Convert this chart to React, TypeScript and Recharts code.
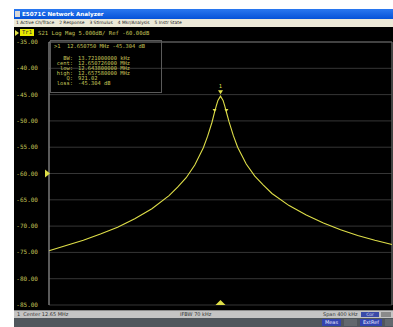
import { LineChart, Line, XAxis, YAxis, CartesianGrid, ReferenceDot, ReferenceLine } from 'recharts'

// S21 trace, offset from center 12.65 MHz (kHz) vs magnitude (dB)
const offsetKHz = [
  -200, -180, -160, -140, -120, -100, -80, -60, -50, -40, -30, -20, -15, -10, -7, -5, -3, 0,
  3, 5, 7, 10, 15, 20, 30, 40, 50, 60, 80, 100, 120, 140, 160, 180, 200,
]
const s21dB = [
  -74.7, -73.7, -72.7, -71.5, -70.2, -68.6, -66.7, -64.2, -62.6, -60.8, -58.4, -55.1, -52.9, -50.3, -48.4, -47.2, -46.1, -45.3,
  -46.1, -47.2, -48.4, -50.2, -52.8, -55.0, -58.2, -60.5, -62.2, -63.8, -66.1, -67.9, -69.4, -70.7, -71.8, -72.7, -73.5,
]
const yTicks = [-85, -80, -75, -70, -65, -60, -55, -50, -45, -40, -35]
const xTicks = [-200, -160, -120, -80, -40, 0, 40, 80, 120, 160, 200]
const menuItems = ['1 Active Ch/Trace', '2 Response', '3 Stimulus', '4 Mkr/Analysis', '5 Instr State']
const mkrLabels = ['BW:', 'cent:', 'low:', 'high:', 'Q:', 'loss:']
const mkrValues = ['13.721000000 kHz', '12.650726000 MHz', '12.643800000 MHz', '12.657580000 MHz', '921.02', '-45.304 dB']
const bwEdges = [-6.9, 6.9]

const YELLOW = '#dede48'
const TEXT_Y = '#c4c458'
const MONO = '"DejaVu Sans Mono", monospace'
const SANS = 'Tahoma, "DejaVu Sans", sans-serif'

const data = offsetKHz.map((o, i) => ({ off: o, db: s21dB[i] }))

const YTick = ({ x, y, payload }: any) => (
  <text x={x - 3} y={y + 2} textAnchor="end" fontSize={6} fontFamily={MONO} fill={TEXT_Y}>
    {payload.value.toFixed(2)}
  </text>
)

const RefArrow = ({ cx, cy }: any) => (
  <path d={`M${cx - 4},${cy - 4} L${cx + 1},${cy} L${cx - 4},${cy + 4} Z`} fill={YELLOW} />
)
const StimArrow = ({ cx, cy }: any) => (
  <path d={`M${cx - 5},${cy} L${cx},${cy - 5} L${cx + 5},${cy} Z`} fill={YELLOW} />
)
const PeakMarker = ({ cx, cy }: any) => (
  <g>
    <path d={`M${cx - 2.5},${cy - 6} L${cx + 2.5},${cy - 6} L${cx},${cy - 2} Z`} fill={YELLOW} />
    <text x={cx} y={cy - 8} textAnchor="middle" fontSize={5.5} fontFamily={MONO} fill={YELLOW}>1</text>
  </g>
)
const BwMarker = ({ cx, cy }: any) => (
  <path d={`M${cx - 2},${cy - 3} L${cx + 2},${cy - 3} L${cx},${cy} Z`} fill={YELLOW} />
)

export default function App() {
  return (
    <div style={{ position: 'absolute', left: 0, top: 0, width: 393, height: 327, background: '#fff', overflow: 'hidden' }}>
      {/* title bar */}
      <div style={{ position: 'absolute', left: 14, top: 9, width: 379, height: 10, background: 'linear-gradient(#2a78f0, #0552d8)' }}>
        <div style={{ position: 'absolute', left: 1, top: 2, width: 5, height: 6, background: '#d8d8d8' }} />
        <span style={{ position: 'absolute', left: 8, top: 1.5, fontSize: 5.6, fontWeight: 'bold', fontFamily: SANS, color: '#fff', whiteSpace: 'nowrap' }}>
          E5071C Network Analyzer
        </span>
      </div>
      {/* menu bar */}
      <div style={{ position: 'absolute', left: 14, top: 19, width: 379, height: 8, background: '#ece9d8', display: 'flex', gap: 5, paddingLeft: 2, fontSize: 4.4, fontFamily: SANS, color: '#222', lineHeight: '8px', whiteSpace: 'nowrap' }}>
        {menuItems.map(m => <span key={m}>{m}</span>)}
      </div>
      {/* screen */}
      <div style={{ position: 'absolute', left: 14, top: 27, width: 379, height: 283, background: '#000' }} />
      <div style={{ position: 'absolute', left: 15, top: 29, height: 7, display: 'flex', alignItems: 'center', fontFamily: MONO, fontSize: 5.6, whiteSpace: 'nowrap' }}>
        <span style={{ width: 0, height: 0, borderTop: '3px solid transparent', borderBottom: '3px solid transparent', borderLeft: `4px solid ${YELLOW}` }} />
        <span style={{ background: '#e8e800', color: '#333', padding: '0 2px', marginLeft: 1, lineHeight: '7px' }}>Tr1</span>
        <span style={{ color: TEXT_Y, marginLeft: 4 }}>S21 Log Mag 5.000dB/ Ref -60.00dB</span>
      </div>

      <div style={{ position: 'absolute', left: 0, top: 0 }}>
        <LineChart width={393} height={310} data={data} margin={{ top: 42, right: 1, bottom: 5, left: 14 }}>
          <CartesianGrid stroke="#363636" strokeWidth={1} />
          <XAxis
            dataKey="off"
            type="number"
            domain={[-200, 200]}
            ticks={xTicks}
            height={0}
            tick={false}
            tickLine={false}
            axisLine={{ stroke: '#9a9a9a' }}
          />
          <YAxis
            type="number"
            domain={[-85, -35]}
            ticks={yTicks}
            interval={0}
            width={35}
            tick={<YTick />}
            tickLine={false}
            axisLine={{ stroke: '#9a9a9a' }}
          />
          <ReferenceLine y={-35} stroke="#6a6a6a" />
          <ReferenceLine x={200} stroke="#6a6a6a" />
          <Line
            type="linear"
            dataKey="db"
            stroke={YELLOW}
            strokeWidth={1.1}
            dot={false}
            isAnimationActive={false}
          />
          <ReferenceDot x={-200} y={-60} shape={<RefArrow />} />
          <ReferenceDot x={0} y={-85} shape={<StimArrow />} />
          <ReferenceDot x={0} y={-45.3} shape={<PeakMarker />} />
          {bwEdges.map(e => (
            <ReferenceDot key={e} x={e} y={-48.3} shape={<BwMarker />} />
          ))}
        </LineChart>
      </div>

      {/* marker readout */}
      <div style={{ position: 'absolute', left: 50, top: 40, width: 110, height: 51, border: '1px solid #5a5a5a', fontFamily: MONO, fontSize: 5.4, color: TEXT_Y, whiteSpace: 'nowrap' }}>
        <div style={{ position: 'absolute', left: 3, top: 2 }}>&gt;1&nbsp;&nbsp;12.650750 MHz -45.304 dB</div>
        {mkrLabels.map((l, i) => (
          <div key={l} style={{ position: 'absolute', top: 14 + i * 5, left: 0, width: 22, textAlign: 'right' }}>{l}</div>
        ))}
        {mkrValues.map((v, i) => (
          <div key={v} style={{ position: 'absolute', top: 14 + i * 5, left: 27 }}>{v}</div>
        ))}
      </div>

      {/* channel status bar */}
      <div style={{ position: 'absolute', left: 14, top: 310, width: 379, height: 8, background: '#c4c4c4', borderTop: '1px solid #8a8a8a', boxSizing: 'border-box', fontFamily: SANS, fontSize: 5, color: '#333', lineHeight: '7px', whiteSpace: 'nowrap' }}>
        <span style={{ position: 'absolute', left: 3 }}>1&nbsp;&nbsp;Center 12.65 MHz</span>
        <span style={{ position: 'absolute', left: 166 }}>IFBW 70 kHz</span>
        <span style={{ position: 'absolute', left: 309 }}>Span 400 kHz</span>
        <span style={{ position: 'absolute', left: 347, top: 1, width: 18, height: 5, background: '#3a4aa8', color: '#dde', fontSize: 4.5, lineHeight: '5px', textAlign: 'center' }}>Cor</span>
        <span style={{ position: 'absolute', left: 367, top: 1, width: 10, height: 5, background: '#8a8a8a' }} />
      </div>
      {/* instrument status bar */}
      <div style={{ position: 'absolute', left: 14, top: 318, width: 379, height: 9, background: '#50565c', fontFamily: SANS, fontSize: 5, lineHeight: '7px', whiteSpace: 'nowrap' }}>
        <span style={{ position: 'absolute', left: 308, top: 1, width: 19, height: 7, background: '#3444b0', color: '#e8e8ff', textAlign: 'center' }}>Meas</span>
        <span style={{ position: 'absolute', left: 330, top: 1, width: 13, height: 7, background: '#62686e' }} />
        <span style={{ position: 'absolute', left: 346, top: 1, width: 22, height: 7, background: '#3444b0', color: '#e8e8ff', textAlign: 'center' }}>ExtRef</span>
        <span style={{ position: 'absolute', left: 371, top: 1, width: 8, height: 7, background: '#62686e' }} />
      </div>
    </div>
  )
}
